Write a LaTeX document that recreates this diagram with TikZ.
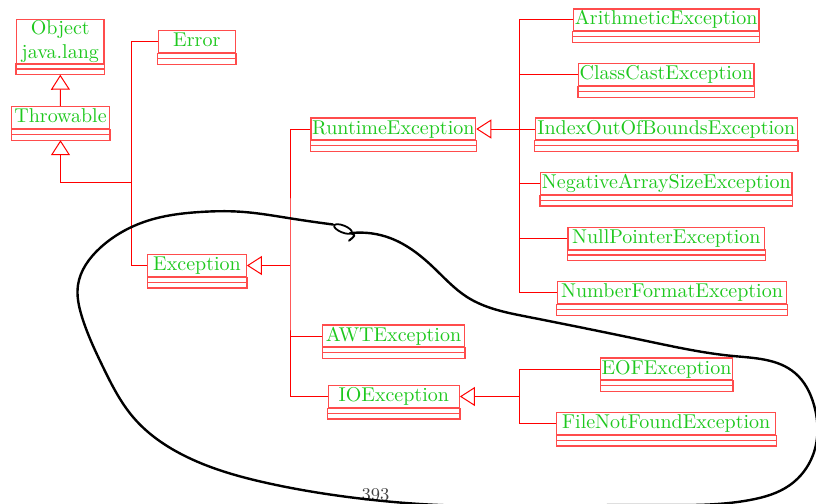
\documentclass[tikz,border=0pt]{standalone}
\usetikzlibrary{arrows.meta,hobby}
\definecolor{umlgreen}{RGB}{30,200,30}
\definecolor{umlred}{RGB}{255,0,0}
\tikzset{
  umlbase/.style={draw=umlred!70, line width=0.6pt, text=umlgreen,
    inner xsep=0pt, inner ysep=0pt, font=\fontsize{10}{12}\selectfont},
  umlname/.style={umlbase, minimum height=11pt, text height=7pt, text depth=2pt},
  umlpart/.style={draw=umlred!70, line width=0.6pt},
  link/.style={draw=umlred, line width=0.5pt},
  inherit/.style={link, -{Triangle[open, length=7.5pt, width=9.5pt]}},
  lasso/.style={draw=black, line width=1.2pt, line cap=round, line join=round},
  pagenum/.style={font=\fontsize{9}{10}\selectfont, text=black!75, inner sep=0pt},
}
% two empty compartments under a class name box, plus its bottom point
\newcommand\umlcompartments[1]{%
  \draw[umlpart] (#1.south west) rectangle ([yshift=-2.5pt]#1.south east);
  \draw[umlpart] ([yshift=-2.5pt]#1.south west) rectangle ([yshift=-5.4pt]#1.south east);
  \coordinate (#1-b) at ([yshift=-5.4pt]#1.south);}
\newcommand\umlclass[4]{%
  \node[umlname, minimum width=#3] (#1) at (#2) {#4};
  \umlcompartments{#1}}
\begin{document}
\begin{tikzpicture}[x=0.5pt, y=-0.5pt]
  \path[use as bounding box, clip] (0,0) rectangle (816,504);

  % classes
  \node[umlbase, minimum width=43.65pt, minimum height=22pt, align=center]
    (obj) at (60.3,41.3) {Object\\java.lang};
  \umlcompartments{obj}
  \umlclass{thr}{60.5,117.8}{48.8pt}{Throwable}
  \umlclass{err}{196.8,41.7}{38.5pt}{Error}
  \umlclass{exc}{197,265.5}{49.3pt}{Exception}
  \umlclass{rt}{393.3,129}{82.35pt}{RuntimeException}
  \umlclass{awt}{393.5,336}{70.8pt}{AWTException}
  \umlclass{io}{393.8,396.5}{65.5pt}{IOException}
  \umlclass{ar}{666.2,19.9}{92.85pt}{ArithmeticException}
  \umlclass{cc}{666.3,74.7}{87.65pt}{ClassCastException}
  \umlclass{ioob}{666.3,129}{131pt}{IndexOutOfBoundsException}
  \umlclass{nas}{666.3,183.5}{125.65pt}{NegativeArraySizeException}
  \umlclass{npe}{666.3,238.3}{98.35pt}{NullPointerException}
  \umlclass{nfe}{672,292.7}{114.7pt}{NumberFormatException}
  \umlclass{eof}{666.5,369}{65.8pt}{EOFException}
  \umlclass{fnf}{666.2,423.5}{109.5pt}{FileNotFoundException}

  % inheritance
  \draw[inherit] (thr.north) -- (obj-b);

  \coordinate (j1) at (131.3,182.7);
  \draw[inherit] (j1) -| (thr-b);
  \draw[link] (err.west) -| (j1) |- (exc.west);

  \coordinate (j2) at (290,265.5);
  \draw[inherit] (j2) -- (exc.east);
  \draw[link] (rt.west) -| (j2) |- (io.west);
  \draw[link] (awt.west) -- (awt.west -| j2);

  \coordinate (j3) at (519.5,129);
  \draw[inherit] (j3) -- (rt.east);
  \draw[link] (ar.west) -| (j3) |- (nfe.west);
  \foreach \n in {cc,ioob,nas,npe}
    \draw[link] (\n.west) -- (\n.west -| j3);

  \coordinate (j4) at (519.3,396.5);
  \draw[inherit] (j4) -- (io.east);
  \draw[link] (eof.west) -| (j4) |- (fnf.west);

  % page number
  \node[pagenum, anchor=base] (pg) at (375.5,500.5) {393};

  % hand-drawn loop around the checked exceptions
  \draw[lasso] (352,233) to[curve through={
    (390,238) (433,267) (467,297) (527,316.7) (650,341.7)
    (733,356) (795,373) (814,405) (813,455) (790,485) (750,500)
    (650,505) (420,504) (360,498.5) (267,483) (187,457) (133,417)
    (103,367) (82,317) (78,285) (100,248) (150,220) (200,212)
    (240,211.7) (290,218.3)}] (333,224.5);
  \draw[lasso, line width=0.9pt] (343,229) ellipse [x radius=9.5, y radius=3.5, rotate=-22];
  \draw[lasso, line width=1pt] (350,233) .. controls (356,235) .. (349,240.7);
\end{tikzpicture}
\end{document}
